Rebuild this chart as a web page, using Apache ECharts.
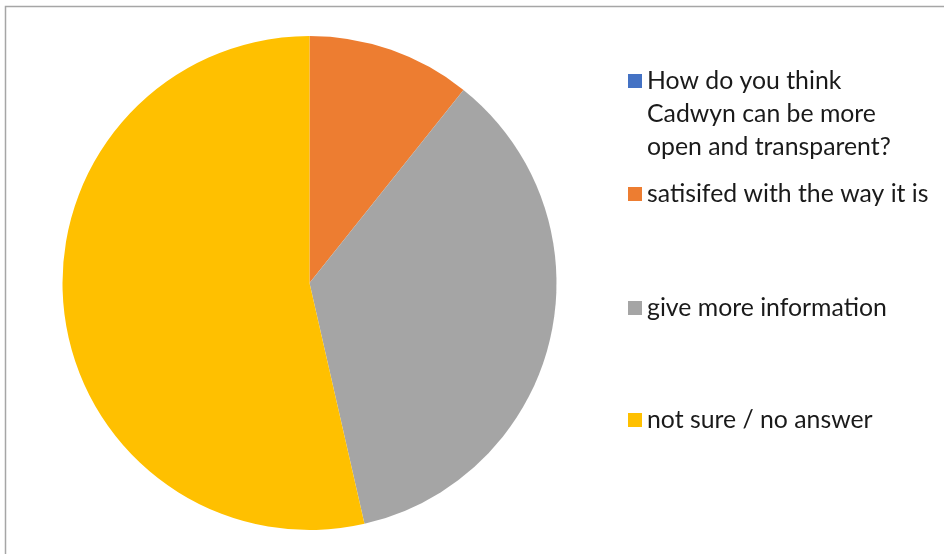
<!DOCTYPE html>
<html>
<head>
<meta charset="utf-8">
<script src="https://cdn.jsdelivr.net/npm/echarts@6/dist/echarts.min.js"></script>
<style>html,body{margin:0;padding:0;background:#fff}#c{width:944px;height:554px}</style>
</head>
<body>
<div id="c"></div>
<script>
const categories = [
  "How do you think Cadwyn can be more open and transparent?",
  "satisifed with the way it is",
  "give more information",
  "not sure / no answer"
];
const values = [0, 3, 10, 15];
const colors = ["#4472C4", "#ED7D31", "#A5A5A5", "#FFC000"];
const legendLabels = [
  " \n \nHow do you think\nCadwyn can be more\nopen and transparent?",
  "satisifed with the way it is",
  "give more information",
  "not sure / no answer"
];

const LH = 33;
const iconCenters = [81, 194, 308, 420];
const chart = echarts.init(document.getElementById('c'));
const legends = categories.map((name, i) => ({
  data: [name],
  orient: 'vertical',
  left: 628,
  top: iconCenters[i] - (i === 0 ? 2.5 * LH : LH / 2),
  padding: 0,
  itemWidth: 14,
  itemHeight: 14,
  icon: 'rect',
  selectedMode: false,
  formatter: () => legendLabels[i],
  textStyle: {
    fontFamily: 'Lato',
    fontSize: 24.8,
    color: '#1a1a1a',
    lineHeight: LH
  }
}));

chart.setOption({
  animation: false,
  color: colors,
  graphic: [{
    type: 'rect',
    shape: { x: 5.5, y: 6.5, width: 1000, height: 1000 },
    style: { fill: 'none', stroke: '#a6a6a6', lineWidth: 1.5 },
    silent: true
  }],
  legend: legends,
  series: [{
    type: 'pie',
    center: [309.5, 283],
    radius: [0, 247],
    startAngle: 90,
    clockwise: true,
    label: { show: false },
    labelLine: { show: false },
    itemStyle: { borderWidth: 0 },
    emphasis: { disabled: true },
    data: categories.map((name, i) => ({ name, value: values[i] }))
  }]
});
</script>
</body>
</html>
